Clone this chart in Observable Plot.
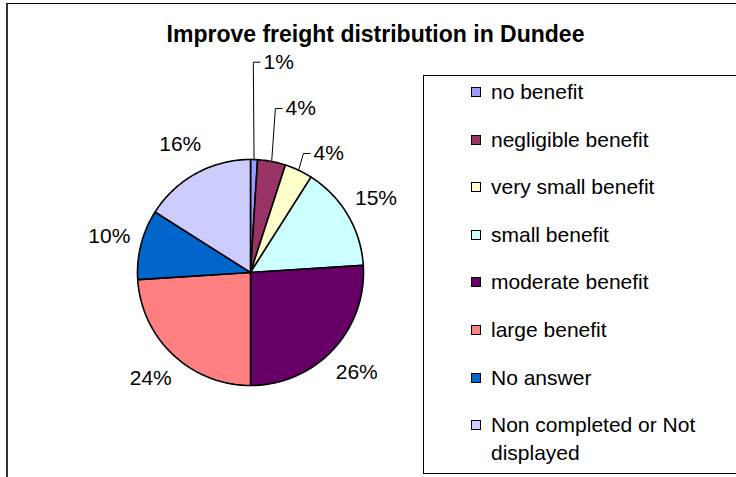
<!DOCTYPE html>
<html>
<head>
<meta charset="utf-8">
<script src="https://cdn.jsdelivr.net/npm/d3@7"></script>
<script src="https://cdn.jsdelivr.net/npm/@observablehq/plot@0.6"></script>
<style>
  body { margin: 0; background: #fff; font-family: "Liberation Sans", Arial, sans-serif; }
  #wrap { position: relative; width: 736px; height: 477px; overflow: hidden; background: #fff; }
  #frame { position: absolute; left: 6px; top: 3px; width: 800px; height: 520px; box-sizing: border-box;
           border-left: 2px solid #333; border-top: 1px solid #000; }
  #plot { position: absolute; left: 0; top: 0; }
  #title { position: absolute; left: 0; width: 751px; top: 22.5px; text-align: center; font-weight: bold;
           font-size: 23px; line-height: 23px; color: #000; white-space: nowrap; }
  #legend { position: absolute; left: 423px; top: 75px; width: 340px; height: 399px; box-sizing: border-box;
            border: 1px solid #000; background: #fff; }
  .row { position: absolute; left: 0; }
  .sw { position: absolute; left: 47px; width: 10px; height: 10px; box-sizing: border-box; border: 1px solid #000; }
  .lbl { position: absolute; left: 67px; width: 222px; font-size: 21px; line-height: 28px; color: #000; }
</style>
</head>
<body>
<div id="wrap">
  <div id="frame"></div>
  <div id="plot"></div>
  <div id="title"></div>
  <div id="legend"></div>
</div>
<script>
// ---- data ----
const title = "Improve freight distribution in Dundee";
const categories = ["no benefit", "negligible benefit", "very small benefit", "small benefit",
                    "moderate benefit", "large benefit", "No answer", "Non completed or Not displayed"];
const shares = [1, 4, 4, 15, 26, 24, 10, 16];
const colors = ["#9999FF", "#993366", "#FFFFCC", "#CCFFFF", "#660066", "#FF8080", "#0066CC", "#CCCCFF"];

// ---- layout options (in units of the pie radius) ----
const labelRadius = 1.29;
const leaderLabels = { 0: {x: 0.115, y: 1.861}, 1: {x: 0.31, y: 1.451}, 2: {x: 0.558, y: 1.053} };

// ---- geometry from data ----
const total = d3.sum(shares);
const cum = d3.cumsum(shares);
const slices = categories.map((name, i) => {
  const a1 = cum[i] / total * 360, a0 = a1 - shares[i] / total * 360;
  return {name, i, a0, a1, mid: (a0 + a1) / 2, share: shares[i]};
});
const pt = (deg, r) => [r * Math.sin(deg * Math.PI / 180), r * Math.cos(deg * Math.PI / 180)];

const polyPts = [];
for (const s of slices) {
  polyPts.push({name: s.name, x: 0, y: 0});
  const n = Math.max(2, Math.ceil(s.a1 - s.a0) + 1);
  for (let k = 0; k <= n; k++) {
    const [x, y] = pt(s.a0 + (s.a1 - s.a0) * k / n, 1);
    polyPts.push({name: s.name, x, y});
  }
  polyPts.push({name: s.name, x: 0, y: 0});
}

const centerLabels = [], startLabels = [], leaderPts = [];
for (const s of slices) {
  const text = s.share + "%";
  if (leaderLabels[s.i]) {
    const L = leaderLabels[s.i];
    startLabels.push({x: L.x, y: L.y, text});
    const [ex, ey] = pt(s.mid, 1);
    leaderPts.push({id: s.i, x: ex, y: ey});
    leaderPts.push({id: s.i, x: L.x - 0.09, y: L.y});
    leaderPts.push({id: s.i, x: L.x - 0.03, y: L.y});
  } else {
    const [x, y] = pt(s.mid, labelRadius);
    centerLabels.push({x, y, text});
  }
}

const font = "Liberation Sans, Arial, sans-serif";
const chart = Plot.plot({
  width: 736, height: 477,
  style: {background: "transparent", overflow: "visible"},
  x: {domain: [-1, 1], range: [137, 363], axis: null},
  y: {domain: [-1, 1], range: [385, 159], axis: null},
  color: {domain: categories, range: colors},
  marks: [
    Plot.line(polyPts, {x: "x", y: "y", z: "name", fill: "name", stroke: "#000", strokeWidth: 1.6,
                        strokeLinejoin: "round", curve: "linear"}),
    Plot.line(leaderPts, {x: "x", y: "y", z: "id", stroke: "#000", strokeWidth: 1, curve: "linear"}),
    Plot.text(centerLabels, {x: "x", y: "y", text: "text", fontSize: 21, fontFamily: font, fill: "#000"}),
    Plot.text(startLabels, {x: "x", y: "y", text: "text", fontSize: 21, fontFamily: font, fill: "#000",
                            textAnchor: "start"})
  ]
});
document.getElementById("plot").appendChild(chart);
document.getElementById("title").textContent = title;

// legend
const legend = document.getElementById("legend");
const firstRow = 16, rowStep = 47.6; // row centres relative to the legend box
categories.forEach((name, i) => {
  const c = firstRow + i * rowStep;
  const row = document.createElement("div");
  row.className = "row";
  row.style.top = "0px";
  const sw = document.createElement("div");
  sw.className = "sw";
  sw.style.top = (c - 5) + "px";
  sw.style.background = colors[i];
  const lb = document.createElement("div");
  lb.className = "lbl";
  lb.style.top = (c - 14) + "px";
  lb.textContent = name;
  row.appendChild(sw); row.appendChild(lb);
  legend.appendChild(row);
});
</script>
</body>
</html>
